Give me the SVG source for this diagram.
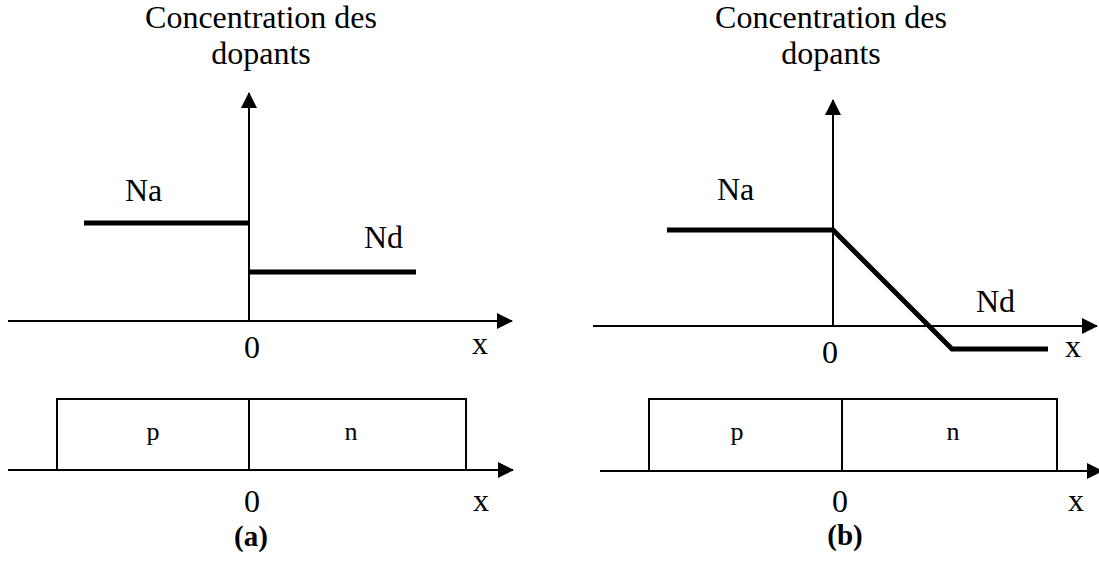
<svg xmlns="http://www.w3.org/2000/svg" width="1099" height="562" viewBox="0 0 1099 562" font-family="'Liberation Serif', 'DejaVu Serif', serif">
  <style>
    text { font-family: 'Liberation Serif', 'DejaVu Serif', serif; fill: #000; }
    .lbl { font-size: 32px; }
    .mid { text-anchor: middle; }
    .reg { font-size: 26px; text-anchor: middle; }
    .cap { font-size: 29px; font-weight: bold; text-anchor: middle; }
    .axis { stroke: #000; stroke-width: 2; fill: none; marker-end: url(#arrow); }
    .prof { stroke: #000; stroke-width: 5; fill: none; stroke-linejoin: miter; }
    .box { stroke: #000; stroke-width: 2; fill: #fff; }
    .div { stroke: #000; stroke-width: 2; }
  </style>
  <defs>
    <marker id="arrow" markerUnits="userSpaceOnUse" markerWidth="16" markerHeight="16" refX="15" refY="8" orient="auto">
      <path d="M0,0 L16,8 L0,16 z" fill="#000"/>
    </marker>
  </defs>
  <rect width="1099" height="562" fill="#fff"/>

  <!-- panel (a): abrupt junction -->
  <g id="panel-a">
    <g id="a-title">
      <text class="lbl mid" x="261" y="28">Concentration des</text>
      <text class="lbl mid" x="261" y="64">dopants</text>
    </g>
    <g id="a-axes">
      <line class="axis" x1="249" y1="321" x2="249" y2="93"/>
      <line class="axis" x1="8" y1="321" x2="512" y2="321"/>
      <text class="lbl mid" x="252" y="358">0</text>
      <text class="lbl" x="472" y="354">x</text>
    </g>
    <g id="a-profile">
      <line class="prof" x1="84" y1="223" x2="249" y2="223"/>
      <line class="prof" x1="249" y1="272" x2="416" y2="272"/>
      <text class="lbl" x="125" y="201">Na</text>
      <text class="lbl" x="364" y="248">Nd</text>
    </g>
    <g id="a-junction">
      <line class="axis" x1="8" y1="470" x2="513" y2="470"/>
      <rect class="box" x="57" y="399" width="409" height="71"/>
      <line class="div" x1="249" y1="399" x2="249" y2="470"/>
      <text class="reg" x="153" y="440">p</text>
      <text class="reg" x="351" y="440">n</text>
      <text class="lbl mid" x="252" y="512">0</text>
      <text class="lbl" x="473" y="511">x</text>
      <text class="cap" x="251" y="546">(a)</text>
    </g>
  </g>

  <!-- panel (b): graded junction -->
  <g id="panel-b">
    <g id="b-title">
      <text class="lbl mid" x="831" y="28">Concentration des</text>
      <text class="lbl mid" x="831" y="64">dopants</text>
    </g>
    <g id="b-axes">
      <line class="axis" x1="833" y1="326" x2="833" y2="100"/>
      <line class="axis" x1="593" y1="326" x2="1097" y2="326"/>
      <text class="lbl mid" x="830" y="363">0</text>
      <text class="lbl" x="1065" y="357">x</text>
    </g>
    <g id="b-profile">
      <polyline class="prof" points="667,230 833,230 952,349 1048,349"/>
      <text class="lbl" x="717" y="200">Na</text>
      <text class="lbl" x="976" y="312">Nd</text>
    </g>
    <g id="b-junction">
      <line class="axis" x1="600" y1="471" x2="1102" y2="471"/>
      <rect class="box" x="649" y="399" width="408" height="72"/>
      <line class="div" x1="842" y1="399" x2="842" y2="471"/>
      <text class="reg" x="737" y="440">p</text>
      <text class="reg" x="953" y="440">n</text>
      <text class="lbl mid" x="840" y="512">0</text>
      <text class="lbl" x="1068" y="511">x</text>
      <text class="cap" x="845" y="545">(b)</text>
    </g>
  </g>
</svg>
